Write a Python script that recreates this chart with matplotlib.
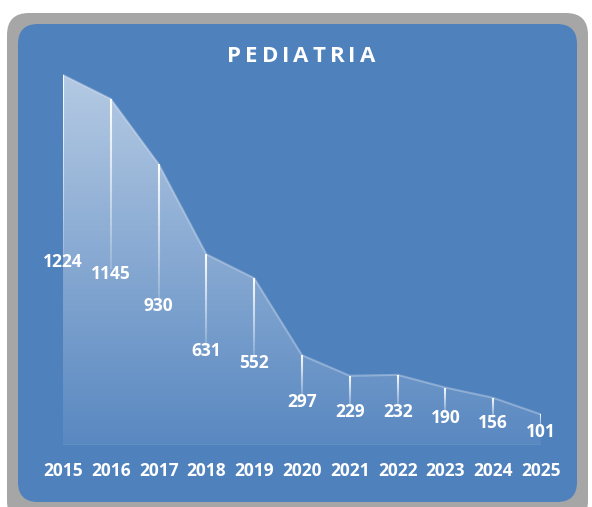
import numpy as np
import matplotlib
matplotlib.use("Agg")
import matplotlib.pyplot as plt
from matplotlib.patches import FancyBboxPatch, PathPatch
from matplotlib.collections import LineCollection
from matplotlib.textpath import TextPath
from matplotlib.font_manager import FontProperties

years = ["2015", "2016", "2017", "2018", "2019", "2020", "2021", "2022", "2023", "2024", "2025"]
patients = [1224, 1145, 930, 631, 552, 297, 229, 232, 190, 156, 101]
title = "PEDIATRIA"

BLUE = "#4f81bd"
GRAY = "#a6a6a6"
FONT = "Open Sans"

W, H = 592, 507
fig = plt.figure(figsize=(W / 100, H / 100), dpi=100)
fig.patch.set_facecolor("white")

# background panel in pixel units
bg = fig.add_axes([0, 0, 1, 1])
bg.set_xlim(0, W)
bg.set_ylim(H, 0)
bg.axis("off")
bg.add_patch(FancyBboxPatch((7 + 22, 13 + 22), 581 - 44, 510 - 44,
                            boxstyle="round,pad=22", fc=GRAY, ec="none"))
bg.add_patch(FancyBboxPatch((18 + 20, 24 + 20), 559 - 40, 478 - 40,
                            boxstyle="round,pad=20", fc=BLUE, ec="none"))

# title with wide letter spacing
tsize = 16
fp = FontProperties(family=FONT, weight="bold", size=tsize)
track = 4.0
widths = []
for ch in title:
    tp = TextPath((0, 0), ch, prop=fp)
    adv = TextPath((0, 0), ch + "|", prop=fp).get_extents().x1 - TextPath((0, 0), "|", prop=fp).get_extents().x1
    widths.append(adv * 100 / 72)
total = sum(widths) + track * (len(title) - 1)
xpos = 301 - total / 2
for ch, w in zip(title, widths):
    bg.text(xpos, 57, ch, color="white", fontproperties=fp, ha="left", va="center")
    xpos += w + track

# chart area
ymax = 1400
ax = fig.add_axes([63 / W, (H - 445) / H, 478 / W, (1400 * 0.30229) / H])
ax.patch.set_alpha(0)
ax.set_xlim(0, len(years) - 1)
ax.set_ylim(0, ymax)
for s in ax.spines.values():
    s.set_visible(False)

x = np.arange(len(years))
y = np.array(patients, dtype=float)

# gradient area fill
poly = ax.fill_between(x, 0, y, facecolor="none", edgecolor="none")
clip = PathPatch(poly.get_paths()[0], transform=ax.transData, fc="none", ec="none")
ax.add_patch(clip)
alpha = np.linspace(0.06, 0.58, 256)[::-1]
grad = np.ones((256, 1, 4))
grad[:, 0, 3] = alpha
im = ax.imshow(grad, extent=[0, len(years) - 1, 0, max(patients)], aspect="auto",
               origin="upper", zorder=1)
im.set_clip_path(clip)
ax.plot(x, y, color="white", alpha=0.3, lw=1.5, zorder=2)

# baseline
ax.axhline(0, color="white", alpha=0.25, lw=1, zorder=2)

# drop lines fading downwards
segs, cols = [], []
n = 20
for xi, yi in zip(x, y):
    ys = np.linspace(yi, yi / 2 + 10, n + 1)
    for k in range(n):
        segs.append([(xi, ys[k]), (xi, ys[k + 1])])
        cols.append((1, 1, 1, 0.95 - 0.8 * k / n))
ax.add_collection(LineCollection(segs, colors=cols, linewidths=1.5, zorder=3))

# data labels
for xi, yi in zip(x, y):
    ax.text(xi, yi / 2 - 6, str(int(yi)), color="white", fontsize=12.5, fontweight="bold",
            family=FONT, ha="center", va="center", zorder=4, clip_on=False)

ax.set_yticks([])
ax.set_xticks(x)
ax.set_xticklabels(years, color="white", fontsize=12.5, fontweight="bold", family=FONT)
ax.tick_params(axis="x", length=0, pad=12)

fig.savefig("out.png", dpi=100, facecolor="white")
